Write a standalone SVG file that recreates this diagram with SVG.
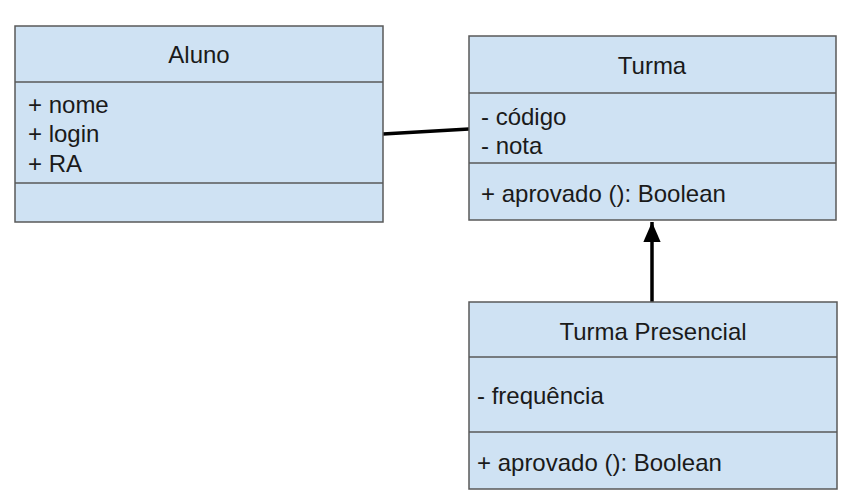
<svg xmlns="http://www.w3.org/2000/svg" width="853" height="504" viewBox="0 0 853 504">
<defs>
<style>
.box{fill:#cfe2f3;stroke:#595959;stroke-width:1.5}
.div{stroke:#595959;stroke-width:1.5}
text{font-family:"Liberation Sans",Arial,sans-serif;font-size:24px;fill:#1a1a1a}
.c{text-anchor:middle}
.conn{stroke:#000;stroke-width:3.5;fill:none}
</style>
<marker id="tri" markerWidth="20" markerHeight="20" refX="22" refY="10" orient="auto" markerUnits="userSpaceOnUse" viewBox="0 0 22 20">
<path d="M0,0.5 L22,10 L0,19.5 Z" fill="#000"/>
</marker>
</defs>
<rect width="853" height="504" fill="#fff"/>
<g id="connectors">
<line class="conn" x1="383" y1="134" x2="469" y2="129"/>
<line class="conn" x1="652" y1="302" x2="652" y2="222" marker-end="url(#tri)"/>
</g>
<g id="aluno">
<rect class="box" x="15" y="26" width="368" height="196"/>
<line class="div" x1="15" y1="82" x2="383" y2="82"/>
<line class="div" x1="15" y1="183" x2="383" y2="183"/>
<text class="c" x="199" y="63">Aluno</text>
<text x="28" y="113">+ nome</text>
<text x="28" y="142">+ login</text>
<text x="28" y="172">+ RA</text>
</g>
<g id="turma">
<rect class="box" x="469" y="36" width="367" height="184"/>
<line class="div" x1="469" y1="93" x2="836" y2="93"/>
<line class="div" x1="469" y1="163" x2="836" y2="163"/>
<text class="c" x="652" y="74">Turma</text>
<text x="481" y="125">- código</text>
<text x="481" y="154">- nota</text>
<text x="481" y="202">+ aprovado (): Boolean</text>
</g>
<g id="turma-presencial">
<rect class="box" x="469" y="302" width="368" height="187"/>
<line class="div" x1="469" y1="357" x2="837" y2="357"/>
<line class="div" x1="469" y1="432" x2="837" y2="432"/>
<text class="c" x="653" y="340">Turma Presencial</text>
<text x="477" y="404">- frequência</text>
<text x="477" y="471">+ aprovado (): Boolean</text>
</g>
</svg>
